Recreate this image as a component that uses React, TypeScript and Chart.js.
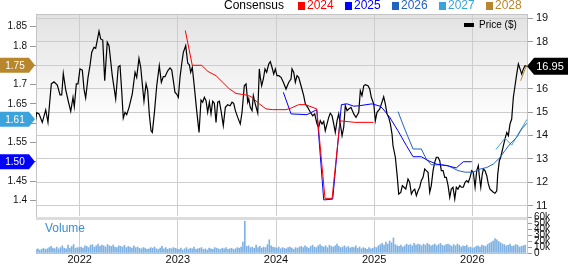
import React, { useEffect, useRef } from 'react';
import { Chart, registerables } from 'chart.js';

Chart.register(...registerables);

const FONT = '"Liberation Sans", Arial, Helvetica, sans-serif';

// ---------- data ----------
const X_MIN = 2021.555;
const X_MAX = 2026.557;
const yearTicks = [2022, 2023, 2024, 2025, 2026];
const epsTicks = [1.4, 1.45, 1.5, 1.55, 1.6, 1.65, 1.7, 1.75, 1.8, 1.85];
const priceTicks = [11, 12, 13, 14, 15, 16, 17, 18, 19];
const volumeTicks = [0, 10000, 20000, 30000, 40000, 50000, 60000];

const priceYears = [
  2021.550, 2021.562, 2021.586, 2021.619, 2021.654, 2021.677, 2021.711, 2021.738, 2021.772, 2021.800,
  2021.817, 2021.833, 2021.858, 2021.884, 2021.909, 2021.932, 2021.945, 2021.966, 2021.983, 2022.003,
  2022.027, 2022.044, 2022.061, 2022.085, 2022.105, 2022.123, 2022.146, 2022.163, 2022.197, 2022.214,
  2022.235, 2022.255, 2022.281, 2022.299, 2022.332, 2022.367, 2022.393, 2022.411, 2022.428, 2022.444,
  2022.462, 2022.479, 2022.503, 2022.536, 2022.564, 2022.581, 2022.604, 2022.622, 2022.638, 2022.655,
  2022.676, 2022.693, 2022.709, 2022.727, 2022.740, 2022.760, 2022.785, 2022.811, 2022.832, 2022.852,
  2022.869, 2022.897, 2022.920, 2022.938, 2022.954, 2022.971, 2022.988, 2023.005, 2023.022, 2023.039,
  2023.056, 2023.080, 2023.101, 2023.117, 2023.131, 2023.147, 2023.165, 2023.192, 2023.216, 2023.236,
  2023.253, 2023.270, 2023.287, 2023.304, 2023.321, 2023.338, 2023.355, 2023.372, 2023.389, 2023.406,
  2023.423, 2023.440, 2023.463, 2023.484, 2023.508, 2023.532, 2023.552, 2023.569, 2023.586, 2023.610,
  2023.636, 2023.654, 2023.677, 2023.695, 2023.712, 2023.722, 2023.738, 2023.756, 2023.769, 2023.789,
  2023.814, 2023.830, 2023.840, 2023.854, 2023.871, 2023.888, 2023.905, 2023.926, 2023.942, 2023.959,
  2023.977, 2023.993, 2024.010, 2024.028, 2024.051, 2024.075, 2024.102, 2024.130, 2024.153, 2024.163,
  2024.180, 2024.197, 2024.214, 2024.231, 2024.255, 2024.282, 2024.299, 2024.323, 2024.350, 2024.374,
  2024.394, 2024.418, 2024.435, 2024.451, 2024.469, 2024.486, 2024.502, 2024.520, 2024.537, 2024.553,
  2024.571, 2024.588, 2024.604, 2024.622, 2024.639, 2024.655, 2024.673, 2024.690, 2024.706, 2024.724,
  2024.741, 2024.764, 2024.792, 2024.815, 2024.843, 2024.859, 2024.876, 2024.894, 2024.910, 2024.937,
  2024.955, 2024.971, 2024.996, 2025.012, 2025.029, 2025.057, 2025.073, 2025.097, 2025.114, 2025.131,
  2025.148, 2025.165, 2025.182, 2025.192, 2025.216, 2025.236, 2025.250, 2025.271, 2025.287, 2025.304,
  2025.322, 2025.345, 2025.362, 2025.379, 2025.396, 2025.413, 2025.430, 2025.447, 2025.464, 2025.480,
  2025.498, 2025.515, 2025.531, 2025.549, 2025.566, 2025.582, 2025.600, 2025.617, 2025.633, 2025.651,
  2025.668, 2025.684, 2025.702, 2025.719, 2025.735, 2025.753, 2025.770, 2025.786, 2025.803, 2025.821,
  2025.837, 2025.854, 2025.872, 2025.888, 2025.908, 2025.926, 2025.943, 2025.959, 2025.977, 2025.994,
  2026.010, 2026.028, 2026.045, 2026.061, 2026.071, 2026.086, 2026.099, 2026.112, 2026.129, 2026.147,
  2026.163, 2026.180, 2026.198, 2026.214, 2026.231, 2026.249, 2026.259, 2026.275, 2026.289, 2026.316,
  2026.333, 2026.351, 2026.367, 2026.384, 2026.401, 2026.418, 2026.435, 2026.452, 2026.469, 2026.486,
  2026.503, 2026.520, 2026.537, 2026.557,
];
const priceValues = [
  14.63, 14.97, 14.92, 14.56, 15.09, 14.56, 16.20, 16.29, 16.15, 15.73,
  15.73, 16.65, 15.94, 15.46, 15.03, 15.63, 15.23, 16.20, 16.20, 16.84,
  16.79, 15.98, 15.60, 16.48, 16.98, 17.55, 17.76, 17.72, 18.45, 18.12,
  18.07, 16.34, 17.98, 17.83, 16.55, 15.56, 16.93, 16.98, 15.91, 14.74,
  14.99, 14.89, 15.20, 15.77, 16.70, 16.48, 17.29, 16.91, 16.20, 15.46,
  16.20, 15.91, 14.92, 14.20, 14.13, 14.92, 16.12, 16.98, 16.27, 16.51,
  16.51, 16.76, 16.88, 16.79, 16.34, 15.84, 15.77, 15.63, 16.48, 17.05,
  17.55, 17.83, 17.08, 17.02, 16.70, 16.91, 16.20, 15.06, 14.13, 15.51,
  15.42, 15.63, 15.48, 14.99, 15.42, 14.92, 15.46, 15.37, 14.56, 15.42,
  15.46, 15.06, 14.42, 15.20, 15.31, 15.27, 15.42, 15.37, 15.06, 14.77,
  14.49, 14.99, 16.12, 16.20, 15.42, 15.56, 15.20, 15.06, 15.70, 15.34,
  14.96, 16.84, 16.48, 16.12, 16.41, 16.84, 16.70, 17.05, 17.15, 16.91,
  16.62, 16.84, 16.55, 16.55, 16.48, 16.27, 15.98, 16.27, 16.41, 16.84,
  16.70, 16.27, 16.55, 16.48, 16.12, 15.70, 15.34, 15.20, 14.99, 14.84,
  14.92, 14.49, 14.35, 14.63, 14.49, 14.60, 14.20, 14.49, 14.77, 14.95,
  14.84, 14.49, 14.13, 14.63, 14.92, 14.49, 13.99, 14.35, 15.27, 15.06,
  15.13, 15.20, 14.92, 14.77, 14.99, 15.91, 15.70, 16.12, 16.17, 16.12,
  15.98, 15.63, 15.34, 14.63, 14.99, 15.13, 15.34, 15.65, 15.34, 14.92,
  14.77, 14.49, 14.06, 13.56, 13.07, 12.21, 11.50, 11.57, 11.86, 11.79,
  11.71, 12.14, 12.00, 11.50, 11.64, 11.71, 11.43, 11.64, 11.79, 12.07,
  12.21, 12.57, 12.50, 12.43, 11.57, 11.86, 12.50, 12.85, 13.07, 13.07,
  12.92, 12.50, 12.50, 12.21, 12.21, 11.86, 11.36, 11.71, 11.79, 11.29,
  11.79, 11.71, 11.86, 11.79, 11.79, 12.00, 12.07, 12.00, 12.21, 12.50,
  12.43, 11.79, 12.50, 12.71, 12.28, 11.79, 12.28, 12.57, 12.50, 12.28,
  11.93, 11.71, 11.64, 11.57, 11.53, 11.64, 12.35, 12.92, 13.07, 13.56,
  13.85, 14.13, 13.99, 14.49, 14.70, 15.63, 16.12, 16.62, 17.05, 16.84,
  16.62, 16.84, 16.98, 16.95,
];

// EPS consensus estimates by fiscal year
const eps2024Years = [2023.076, 2023.147, 2023.243, 2023.307, 2023.389, 2023.457, 2023.524, 2023.593, 2023.695, 2023.745, 2023.830, 2023.898, 2023.967, 2024.102, 2024.153, 2024.231, 2024.299, 2024.415, 2024.499, 2024.571, 2024.653, 2024.806, 2024.994];
const eps2024Values = [1.84, 1.75, 1.75, 1.734, 1.723, 1.706, 1.689, 1.677, 1.673, 1.669, 1.65, 1.637, 1.635, 1.635, 1.639, 1.648, 1.648, 1.637, 1.405, 1.405, 1.606, 1.602, 1.602];

const eps2025Years = [2024.075, 2024.153, 2024.316, 2024.415, 2024.486, 2024.578, 2024.666, 2024.724, 2024.792, 2024.843, 2024.978, 2025.060, 2025.090, 2025.159, 2025.243, 2025.328, 2025.396, 2025.480, 2025.549, 2025.633, 2025.735, 2025.837, 2025.908, 2025.994];
const eps2025Values = [1.68, 1.624, 1.622, 1.635, 1.401, 1.403, 1.648, 1.65, 1.644, 1.645, 1.65, 1.644, 1.637, 1.615, 1.58, 1.542, 1.513, 1.513, 1.503, 1.494, 1.49, 1.484, 1.50, 1.50];

const eps2026Years = [2025.243, 2025.311, 2025.396, 2025.480, 2025.531, 2025.582, 2025.668, 2025.753, 2025.854, 2025.926, 2026.010, 2026.079, 2026.147, 2026.214, 2026.282, 2026.333, 2026.384, 2026.452, 2026.503, 2026.557];
const eps2026Values = [1.63, 1.585, 1.533, 1.533, 1.507, 1.492, 1.492, 1.49, 1.477, 1.473, 1.473, 1.481, 1.485, 1.494, 1.511, 1.529, 1.546, 1.563, 1.585, 1.60];

const eps2027Years = [2026.241, 2026.333, 2026.401, 2026.480, 2026.557];
const eps2027Values = [1.532, 1.561, 1.543, 1.577, 1.61];

const eps2028Years = [2026.493, 2026.537, 2026.557];
const eps2028Values = [1.71, 1.74, 1.75];

const seriesNames = ['2024', '2025', '2026', '2027', '2028'];
const latestEps = [1.75, 1.61, 1.50]; // flags: 2028, 2027, 2025
const latestEpsSeries = ['2028', '2027', '2025'];
const lastPrice = 16.95;

// weekly volume, in thousands of shares
const volumeStartYear = 2021.555;
const volumeThousands = [
  6, 7, 5, 6, 8, 6, 7, 9, 11, 8, 7, 10, 7, 9, 12, 8, 7, 13, 8, 11, 14, 8, 9,
  9, 10, 8, 12, 11, 9, 13, 14, 10, 12, 15, 11, 13, 12, 10, 14, 12, 11, 13, 10, 9, 12, 11, 10, 13, 9,
  11, 10, 8, 12, 9, 10, 8, 7, 9, 8, 6, 7, 9, 8, 10, 7, 6, 8, 11, 7, 9, 6, 8, 7, 9, 8,
  7, 6, 8, 5, 7, 9, 6, 8, 7, 10, 6, 7, 8, 9, 6, 7, 5, 8, 7, 6, 9, 8, 7, 6, 8, 7,
  9, 6, 7, 8, 6, 7, 9, 8, 10, 18, 53, 11, 12, 9, 10, 8, 13, 9, 11, 8, 10, 9, 14, 22, 12, 10,
  9, 8, 10, 7, 9, 8, 7, 9, 10, 8, 6, 9, 8, 10, 11, 9, 12, 10, 8, 11, 13, 10, 9, 12, 14, 11,
  10, 12, 9, 13, 11, 10, 12, 15, 11, 9, 10, 12, 9, 11, 8, 10, 9, 12, 8, 10, 7, 9, 8, 6, 9, 7,
  8, 10, 9, 12, 14, 16, 13, 18, 15, 20, 17, 25, 14, 12, 11, 13, 10, 12, 15, 13, 14, 12, 16, 13, 15, 14,
  12, 15, 13, 16, 14, 12, 13, 15, 12, 14, 16, 13, 12, 14, 15, 13, 11, 14, 12, 15, 13, 10, 12, 11, 13, 9,
  10, 8, 9, 11, 12, 10, 13, 12, 11, 14, 16, 18, 20, 24, 22, 19, 17, 15, 14, 12, 13, 15, 11, 12, 14, 13, 10, 11, 12, 13,
];

// ---------- styles ----------
const seriesColors: Record<string, string> = {
  '2024': '#ff0000',
  '2025': '#0000ff',
  '2026': '#2462c0',
  '2027': '#3ba3dc',
  '2028': '#b8862d',
};
const GRID = '#cdcdcd';
const TEXT = '#111111';

const pts = (xs: number[], ys: number[]) => xs.map((x, i) => ({ x, y: ys[i] }));
const setTicks = (vals: number[]) => (s: any) => {
  s.ticks = vals.map((v) => ({ value: v }));
};

function drawLeftFlag(ctx: CanvasRenderingContext2D, y: number, color: string, text: string) {
  const h = 15;
  ctx.save();
  ctx.fillStyle = color;
  ctx.beginPath();
  ctx.moveTo(0, y - h / 2);
  ctx.lineTo(29, y - h / 2);
  ctx.lineTo(35, y);
  ctx.lineTo(29, y + h / 2);
  ctx.lineTo(0, y + h / 2);
  ctx.closePath();
  ctx.fill();
  ctx.fillStyle = '#ffffff';
  ctx.font = `10px ${FONT}`;
  ctx.textAlign = 'center';
  ctx.textBaseline = 'middle';
  ctx.fillText(text, 15, y + 0.5);
  ctx.restore();
}

function drawRightFlag(ctx: CanvasRenderingContext2D, x: number, y: number, text: string) {
  const h = 17;
  ctx.save();
  ctx.fillStyle = '#000000';
  ctx.beginPath();
  ctx.moveTo(x, y);
  ctx.lineTo(x + 7, y - h / 2);
  ctx.lineTo(568, y - h / 2);
  ctx.lineTo(568, y + h / 2);
  ctx.lineTo(x + 7, y + h / 2);
  ctx.closePath();
  ctx.fill();
  ctx.fillStyle = '#ffffff';
  ctx.font = `11px ${FONT}`;
  ctx.textAlign = 'center';
  ctx.textBaseline = 'middle';
  ctx.fillText(text, x + 23, y + 0.5);
  ctx.restore();
}

const mainPlugin = {
  id: 'mainDecor',
  beforeDraw(chart: any) {
    const { ctx, chartArea: a } = chart;
    const g = ctx.createLinearGradient(0, a.top, 0, a.bottom);
    g.addColorStop(0, '#e2e2e2');
    g.addColorStop(0.55, '#ffffff');
    g.addColorStop(1, '#ffffff');
    ctx.save();
    ctx.fillStyle = g;
    ctx.fillRect(a.left, a.top, a.right - a.left, a.bottom - a.top);
    ctx.restore();
  },
  afterDraw(chart: any) {
    const { ctx, chartArea: a, scales } = chart;
    ctx.save();
    // top frame line
    ctx.strokeStyle = '#c4c4c4';
    ctx.lineWidth = 1;
    ctx.beginPath();
    ctx.moveTo(a.left, a.top + 0.5);
    ctx.lineTo(a.right, a.top + 0.5);
    ctx.stroke();

    // top legend
    ctx.font = `12px ${FONT}`;
    ctx.textBaseline = 'middle';
    ctx.textAlign = 'left';
    ctx.fillStyle = '#000';
    ctx.fillText('Consensus', 224, 6);
    const starts = [298, 345, 392, 439, 486];
    seriesNames.forEach((n, i) => {
      ctx.fillStyle = seriesColors[n];
      ctx.fillRect(starts[i], 2, 7, 8);
      ctx.fillText(n, starts[i] + 9, 6);
    });

    // price legend
    ctx.fillStyle = '#000';
    ctx.fillRect(464, 23, 10, 4);
    ctx.font = `10px ${FONT}`;
    ctx.fillText('Price ($)', 479, 25.5);

    // flags
    const yE = scales.yEps;
    latestEps.forEach((v, i) => {
      drawLeftFlag(ctx, yE.getPixelForValue(v), seriesColors[latestEpsSeries[i]], v.toFixed(2));
    });
    drawRightFlag(ctx, a.right, scales.yPrice.getPixelForValue(lastPrice), lastPrice.toFixed(2));
    ctx.restore();
  },
};

const volPlugin = {
  id: 'volDecor',
  afterDraw(chart: any) {
    const { ctx, chartArea: a } = chart;
    ctx.save();
    ctx.fillStyle = '#dcdcdc';
    ctx.fillRect(a.left, a.top, a.right - a.left, 3);
    ctx.font = `12px ${FONT}`;
    ctx.fillStyle = '#3a8fd0';
    ctx.textBaseline = 'middle';
    ctx.fillText('Volume', 45, 229);
    ctx.restore();
  },
};

export default function App() {
  const mainRef = useRef<HTMLCanvasElement>(null);
  const volRef = useRef<HTMLCanvasElement>(null);

  useEffect(() => {
    Chart.defaults.font.family = FONT;
    const lineDs = (name: string, xs: number[], ys: number[]) => ({
      label: name,
      data: pts(xs, ys),
      borderColor: seriesColors[name],
      borderWidth: 1,
      pointRadius: 0,
      tension: 0,
      yAxisID: 'yEps',
      order: 1,
    });
    const hideEps = (v: number) => latestEps.some((f) => Math.abs(f - v) < 0.02);

    const main = new Chart(mainRef.current!, {
      type: 'line',
      data: {
        datasets: [
          lineDs('2024', eps2024Years, eps2024Values),
          lineDs('2025', eps2025Years, eps2025Values),
          lineDs('2026', eps2026Years, eps2026Values),
          lineDs('2027', eps2027Years, eps2027Values),
          lineDs('2028', eps2028Years, eps2028Values),
          {
            label: 'Price ($)',
            data: pts(priceYears, priceValues),
            borderColor: '#000000',
            borderWidth: 1.2,
            pointRadius: 0,
            tension: 0,
            yAxisID: 'yPrice',
            order: 5,
          },
        ],
      },
      options: {
        animation: false,
        responsive: false,
        events: [],
        layout: { padding: { left: 0, right: 0, top: 14, bottom: 48 } },
        plugins: { legend: { display: false }, tooltip: { enabled: false } },
        scales: {
          x: {
            type: 'linear',
            min: X_MIN,
            max: X_MAX,
            afterBuildTicks: setTicks(yearTicks),
            afterFit: (s: any) => { s.height = 0; },
            ticks: { display: false },
            grid: { color: GRID, drawTicks: false },
            border: { display: false },
          },
          yEps: {
            position: 'left',
            min: 1.3593,
            max: 1.883,
            afterBuildTicks: setTicks(epsTicks),
            afterFit: (s: any) => { s.width = 36; },
            ticks: {
              font: { size: 10, family: FONT },
              color: TEXT,
              padding: 3,
              autoSkip: false,
              callback: (v: any) => (hideEps(v) ? '' : String(v)),
            },
            grid: { drawOnChartArea: false, tickLength: 6, tickColor: '#999' },
            border: { display: true, color: '#c4c4c4' },
          },
          yPrice: {
            position: 'right',
            min: 10.562,
            max: 19.184,
            afterBuildTicks: setTicks(priceTicks),
            afterFit: (s: any) => { s.width = 41; },
            ticks: {
              font: { size: 11, family: FONT },
              color: TEXT,
              padding: 3,
              autoSkip: false,
              callback: (v: any) => String(v),
            },
            grid: { color: GRID, tickLength: 6, tickColor: '#999' },
            border: { display: true, color: '#c4c4c4' },
          },
        },
      } as any,
      plugins: [mainPlugin],
    });

    const vol = new Chart(volRef.current!, {
      type: 'bar',
      data: {
        datasets: [
          {
            label: 'Volume',
            data: volumeThousands.map((v, i) => ({ x: volumeStartYear + (i * 7) / 365.25, y: v * 1000 })),
            backgroundColor: '#7fb2e2',
            barThickness: 1,
            yAxisID: 'yVol',
          },
        ],
      },
      options: {
        animation: false,
        responsive: false,
        events: [],
        layout: { padding: { left: 36, right: 0, top: 217, bottom: 0 } },
        plugins: { legend: { display: false }, tooltip: { enabled: false } },
        scales: {
          x: {
            type: 'linear',
            min: X_MIN,
            max: X_MAX,
            offset: false,
            afterBuildTicks: setTicks(yearTicks),
            afterFit: (s: any) => { s.height = 11; },
            ticks: { font: { size: 11, family: FONT }, color: TEXT, padding: 0, autoSkip: false, callback: (v: any) => String(v) },
            grid: { color: GRID, drawTicks: false, offset: false },
            border: { display: true, color: '#c4c4c4' },
          },
          yVol: {
            position: 'right',
            min: 0,
            max: 60000,
            afterBuildTicks: setTicks(volumeTicks),
            afterFit: (s: any) => { s.width = 41; },
            ticks: {
              font: { size: 10, family: FONT },
              color: TEXT,
              padding: 2,
              autoSkip: false,
              callback: (v: any) => (v === 0 ? '0' : `${v / 1000}k`),
            },
            grid: { drawOnChartArea: false, tickLength: 5, tickColor: '#999' },
            border: { display: true, color: '#c4c4c4' },
          },
        },
      } as any,
      plugins: [volPlugin],
    });

    return () => {
      main.destroy();
      vol.destroy();
    };
  }, []);

  return (
    <div style={{ position: 'absolute', left: 0, top: 0, width: 568, height: 264, background: '#fff' }}>
      <canvas ref={volRef} width={568} height={264} style={{ position: 'absolute', left: 0, top: 0 }} />
      <canvas ref={mainRef} width={568} height={264} style={{ position: 'absolute', left: 0, top: 0 }} />
    </div>
  );
}
